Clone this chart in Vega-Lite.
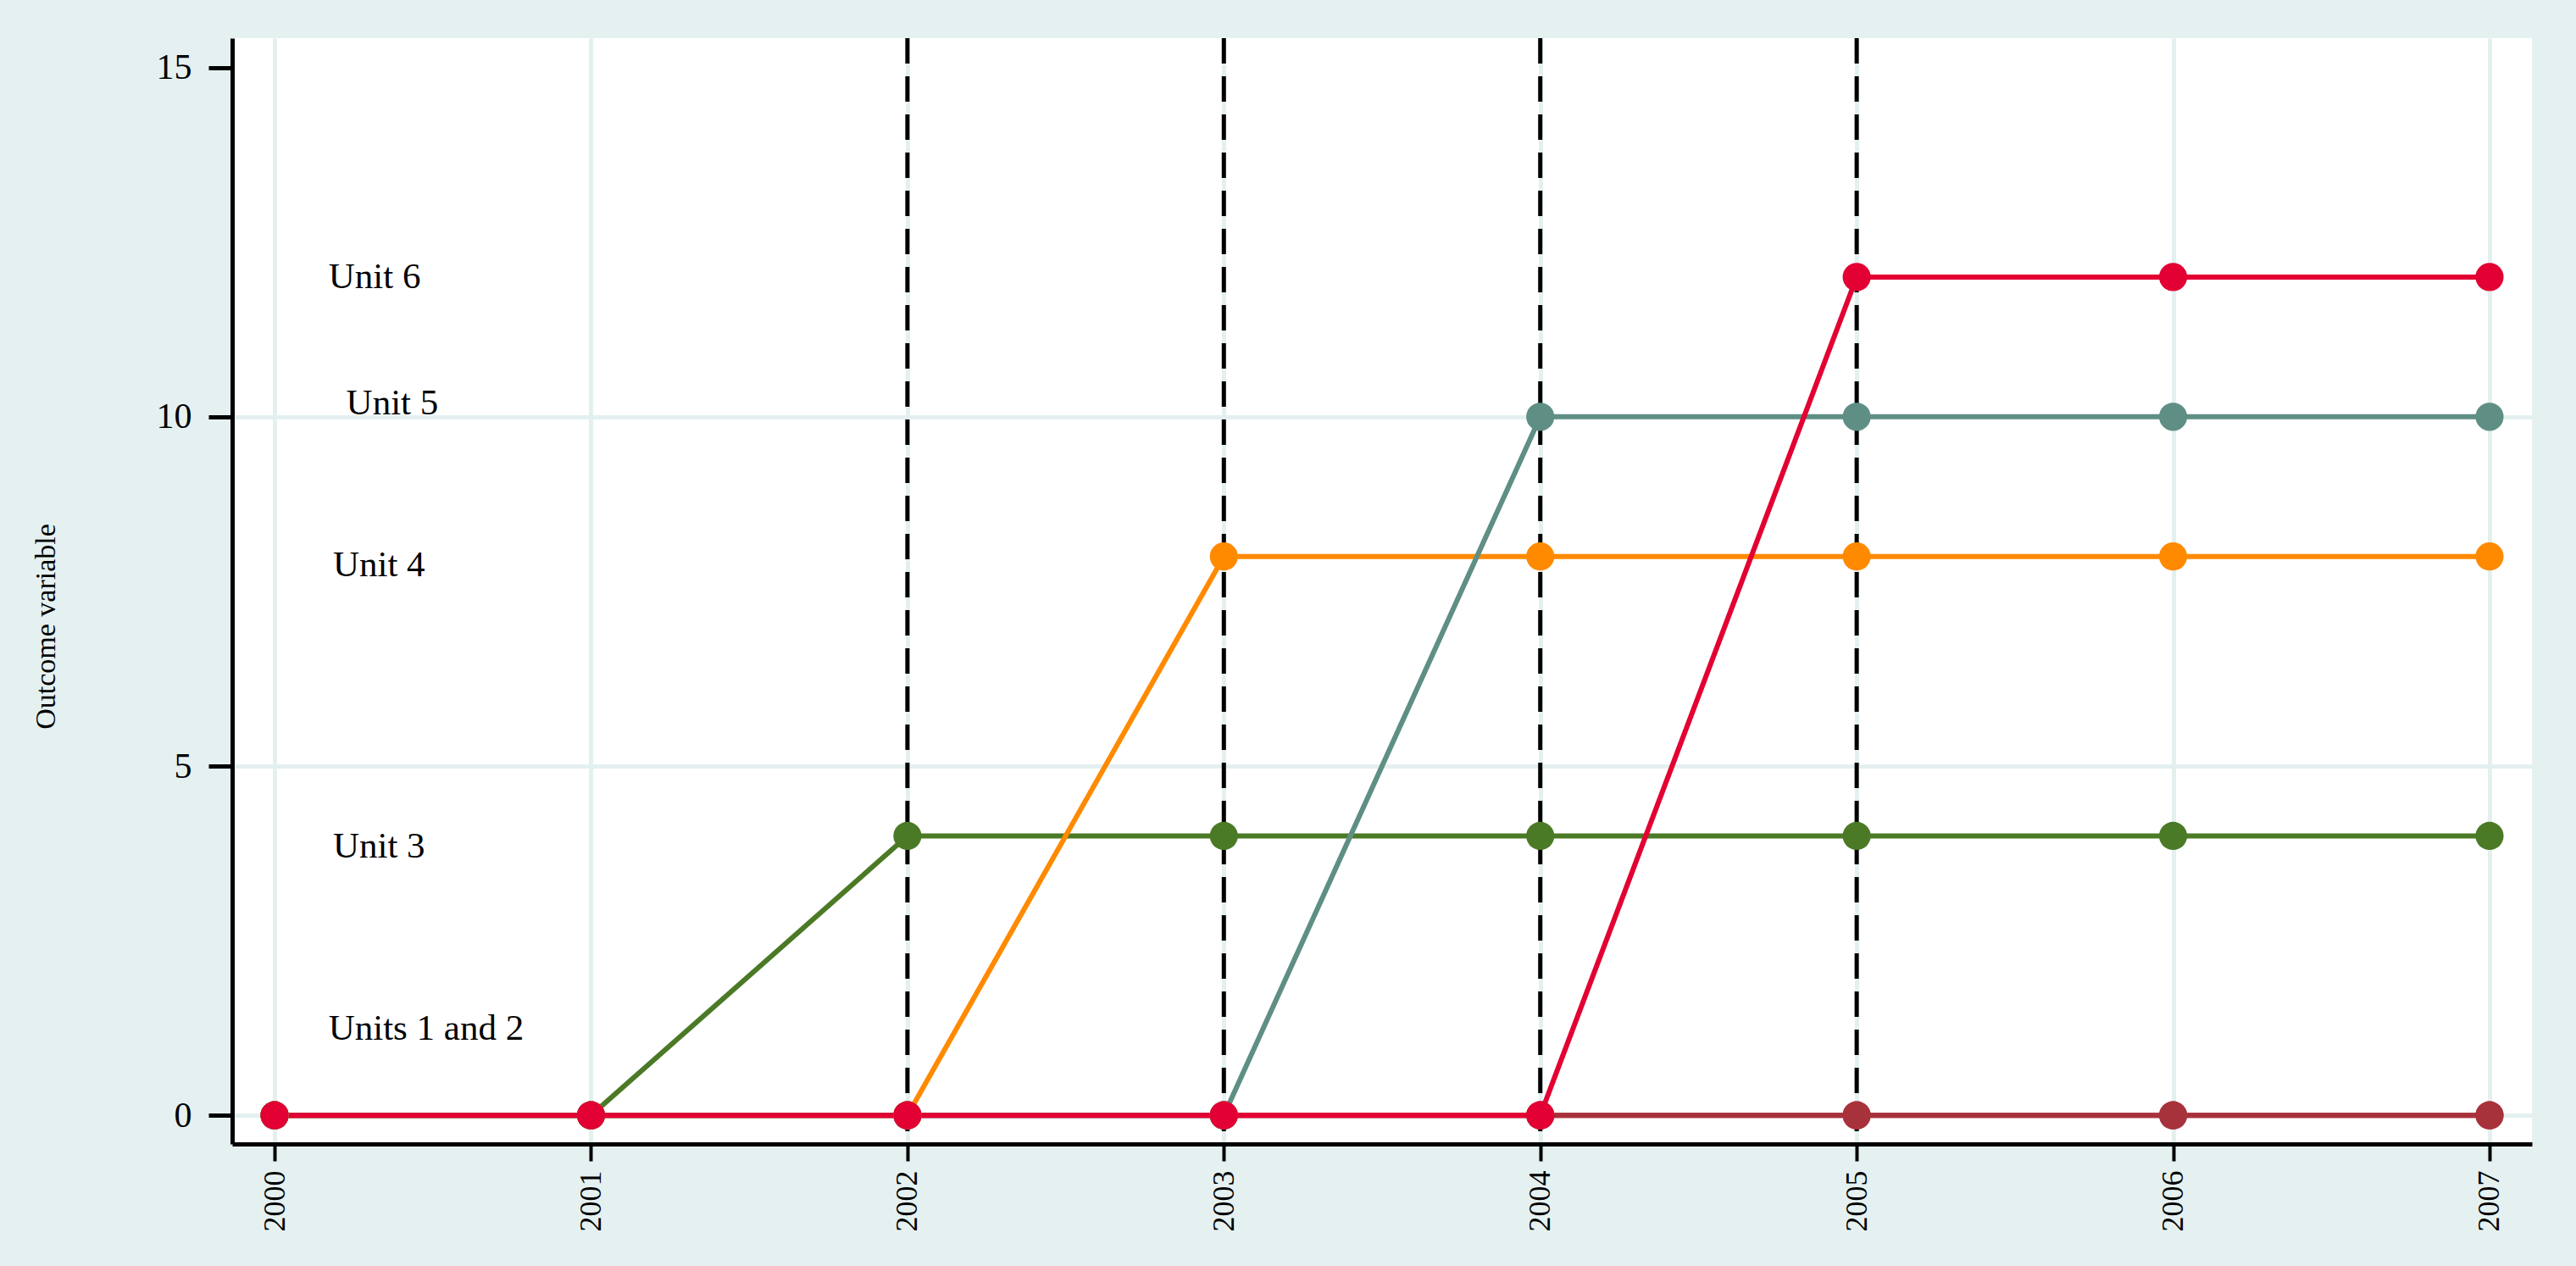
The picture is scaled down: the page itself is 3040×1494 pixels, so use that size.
{
  "$schema": "https://vega.github.io/schema/vega-lite/v6.json",
  "autosize": {"type": "none"},
  "width": 2714,
  "height": 1305,
  "padding": {"left": 274, "top": 45, "right": 52, "bottom": 144},
  "background": "#e5f1f1",
  "config": {
    "view": {"fill": "white", "stroke": null},
    "font": "Liberation Serif"
  },
  "datasets": {
    "series": [
      {"unit": "Unit 1", "year": 2000, "value": 0},
      {"unit": "Unit 1", "year": 2001, "value": 0},
      {"unit": "Unit 1", "year": 2002, "value": 0},
      {"unit": "Unit 1", "year": 2003, "value": 0},
      {"unit": "Unit 1", "year": 2004, "value": 0},
      {"unit": "Unit 1", "year": 2005, "value": 0},
      {"unit": "Unit 1", "year": 2006, "value": 0},
      {"unit": "Unit 1", "year": 2007, "value": 0},
      {"unit": "Unit 2", "year": 2000, "value": 0},
      {"unit": "Unit 2", "year": 2001, "value": 0},
      {"unit": "Unit 2", "year": 2002, "value": 0},
      {"unit": "Unit 2", "year": 2003, "value": 0},
      {"unit": "Unit 2", "year": 2004, "value": 0},
      {"unit": "Unit 2", "year": 2005, "value": 0},
      {"unit": "Unit 2", "year": 2006, "value": 0},
      {"unit": "Unit 2", "year": 2007, "value": 0},
      {"unit": "Unit 3", "year": 2000, "value": 0},
      {"unit": "Unit 3", "year": 2001, "value": 0},
      {"unit": "Unit 3", "year": 2002, "value": 4},
      {"unit": "Unit 3", "year": 2003, "value": 4},
      {"unit": "Unit 3", "year": 2004, "value": 4},
      {"unit": "Unit 3", "year": 2005, "value": 4},
      {"unit": "Unit 3", "year": 2006, "value": 4},
      {"unit": "Unit 3", "year": 2007, "value": 4},
      {"unit": "Unit 4", "year": 2000, "value": 0},
      {"unit": "Unit 4", "year": 2001, "value": 0},
      {"unit": "Unit 4", "year": 2002, "value": 0},
      {"unit": "Unit 4", "year": 2003, "value": 8},
      {"unit": "Unit 4", "year": 2004, "value": 8},
      {"unit": "Unit 4", "year": 2005, "value": 8},
      {"unit": "Unit 4", "year": 2006, "value": 8},
      {"unit": "Unit 4", "year": 2007, "value": 8},
      {"unit": "Unit 5", "year": 2000, "value": 0},
      {"unit": "Unit 5", "year": 2001, "value": 0},
      {"unit": "Unit 5", "year": 2002, "value": 0},
      {"unit": "Unit 5", "year": 2003, "value": 0},
      {"unit": "Unit 5", "year": 2004, "value": 10},
      {"unit": "Unit 5", "year": 2005, "value": 10},
      {"unit": "Unit 5", "year": 2006, "value": 10},
      {"unit": "Unit 5", "year": 2007, "value": 10},
      {"unit": "Unit 6", "year": 2000, "value": 0},
      {"unit": "Unit 6", "year": 2001, "value": 0},
      {"unit": "Unit 6", "year": 2002, "value": 0},
      {"unit": "Unit 6", "year": 2003, "value": 0},
      {"unit": "Unit 6", "year": 2004, "value": 0},
      {"unit": "Unit 6", "year": 2005, "value": 12},
      {"unit": "Unit 6", "year": 2006, "value": 12},
      {"unit": "Unit 6", "year": 2007, "value": 12}
    ],
    "events": [
      {"year": 2002}, {"year": 2003}, {"year": 2004}, {"year": 2005}
    ],
    "labels": [
      {"label": "Unit 6", "year": 2000.316, "value": 12.0},
      {"label": "Unit 5", "year": 2000.372, "value": 10.19},
      {"label": "Unit 4", "year": 2000.33, "value": 7.88},
      {"label": "Unit 3", "year": 2000.33, "value": 3.85},
      {"label": "Units 1 and 2", "year": 2000.479, "value": 1.24}
    ]
  },
  "encoding": {
    "x": {
      "field": "year",
      "type": "quantitative",
      "scale": {"domain": [1999.866, 2007.134], "nice": false, "zero": false},
      "axis": {
        "title": null,
        "values": [2000, 2001, 2002, 2003, 2004, 2005, 2006, 2007],
        "format": "d",
        "labelAngle": -90,
        "labelAlign": "right",
        "labelBaseline": "middle",
        "labelFontSize": 36,
        "labelColor": "black",
        "labelPadding": 11,
        "tickSize": 20,
        "tickWidth": 4,
        "tickColor": "black",
        "domainColor": "black",
        "domainWidth": 5,
        "grid": true,
        "gridColor": "#e4f0f0",
        "gridWidth": 5
      }
    },
    "y": {
      "field": "value",
      "type": "quantitative",
      "scale": {"domain": [-0.41, 15.42], "nice": false, "zero": false},
      "axis": {
        "title": "Outcome variable",
        "titleFontSize": 34,
        "titleFontWeight": "normal",
        "titleColor": "black",
        "titleAngle": -90,
        "titleAlign": "center",
        "titleBaseline": "middle",
        "titleX": -220,
        "titleY": 694,
        "values": [0, 5, 10, 15],
        "labelFontSize": 42,
        "labelColor": "black",
        "labelPadding": 20,
        "tickSize": 28,
        "tickWidth": 5,
        "tickColor": "black",
        "domainColor": "black",
        "domainWidth": 5,
        "grid": true,
        "gridColor": "#e4f0f0",
        "gridWidth": 5,
        "gridOpacity": {"condition": {"test": "datum.value == 15", "value": 0}, "value": 1}
      }
    }
  },
  "layer": [
    {
      "data": {"name": "events"},
      "mark": {"type": "rule", "color": "black", "strokeWidth": 5, "strokeDash": [30, 15]},
      "encoding": {"x": {"field": "year", "type": "quantitative"}, "y": null}
    },
    {
      "data": {"name": "series"},
      "mark": {"type": "line", "strokeWidth": 6},
      "encoding": {
        "color": {
          "field": "unit",
          "type": "nominal",
          "legend": null,
          "scale": {
            "domain": ["Unit 1", "Unit 2", "Unit 3", "Unit 4", "Unit 5", "Unit 6"],
            "range": ["#a8323c", "#a8323c", "#4b7a26", "#ff8a00", "#5f8f84", "#e30033"]
          }
        }
      }
    },
    {
      "data": {"name": "series"},
      "mark": {"type": "point", "filled": true, "opacity": 1, "size": 1100, "shape": "circle"},
      "encoding": {
        "color": {"field": "unit", "type": "nominal", "legend": null}
      }
    },
    {
      "data": {"name": "labels"},
      "mark": {"type": "text", "fontSize": 43, "align": "center", "baseline": "middle", "color": "black"},
      "encoding": {"text": {"field": "label", "type": "nominal"}}
    }
  ]
}
